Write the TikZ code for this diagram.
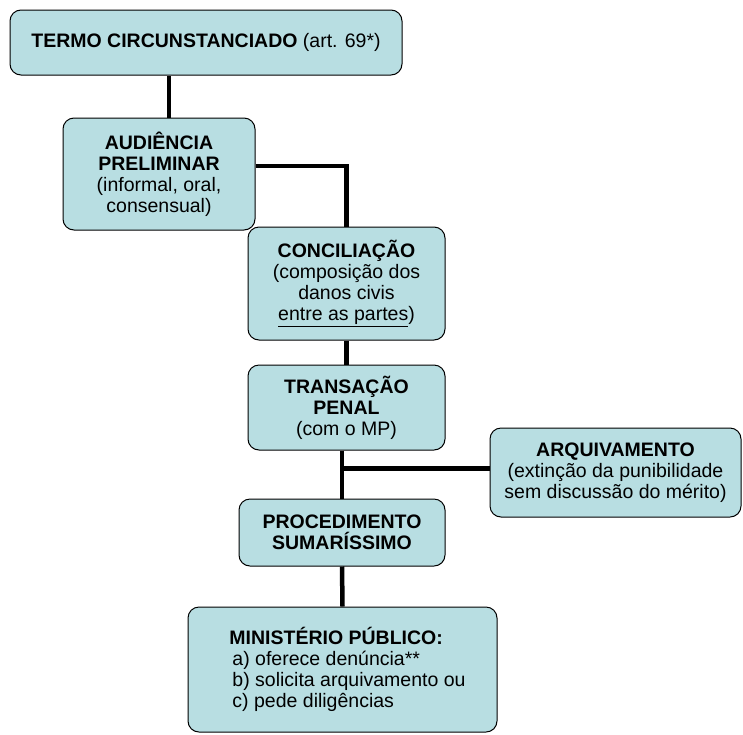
\documentclass[tikz,border=0pt]{standalone}
\usepackage{fontspec}
\setmainfont{Liberation Sans}

\definecolor{caixa}{RGB}{184,222,226}

\begin{document}
\begin{tikzpicture}[
			x = 1pt, y = -1pt,
			semithick]

			\tikzstyle{box}=[
			draw = black,
			line width = 1pt,
			fill = caixa,
			rounded corners = 11pt,
			align = center,
			inner sep = 2pt,
			font = \fontsize{19.5}{21}\selectfont]
			\tikzstyle{liga}=[line width = 4.5pt]

			\useasboundingbox (0,0) rectangle (743,734);

			\node[box, minimum width=392pt, minimum height=65pt] (termo) at (206,42.5)
			{\textbf{TERMO CIRCUNSTANCIADO} (art. 69*)};
			\node[box, minimum width=192pt, minimum height=112pt] (aud) at (159,174)
			{\textbf{AUDIÊNCIA}\\\textbf{PRELIMINAR}\\(informal, oral,\\consensual)};
			\node[box, minimum width=197pt, minimum height=113pt] (conc) at (346.5,283.5)
			{\textbf{CONCILIAÇÃO}\\(composição dos\\danos civis\\\underline{entre as partes})};
			\node[box, minimum width=197pt, minimum height=85pt] (trans) at (346.5,407.5)
			{\textbf{TRANSAÇÃO}\\\textbf{PENAL}\\(com o MP)};
			\node[box, minimum width=251pt, minimum height=89pt] (arq) at (615.5,472.5)
			{\textbf{ARQUIVAMENTO}\\(extinção da punibilidade\\sem discussão do mérito)};
			\node[box, minimum width=206pt, minimum height=67pt] (proc) at (342,532.5)
			{\textbf{PROCEDIMENTO}\\\textbf{SUMARÍSSIMO}};
			\node[box, align=left, minimum width=309pt, minimum height=125pt] (mp) at (342.5,669.5)
			{\hspace*{10pt}\textbf{MINISTÉRIO PÚBLICO:}\\\hspace*{13pt}a) oferece denúncia**\\\hspace*{13pt}b) solicita arquivamento ou\\\hspace*{13pt}c) pede diligências};

			\draw[liga] ([xshift=10pt]aud.north) -- ([xshift=10pt]aud.north |- termo.south);
			\draw[liga] ([yshift=8pt]aud.east) -| (conc.north);
			\draw[liga] (conc.south) -- (trans.north);
			\draw[liga] (proc.north |- trans.south) -- (proc.north);
			\draw[liga] ([yshift=4pt]arq.west -| proc.north) -- ([yshift=4pt]arq.west);
			\draw[liga] (proc.south) -- (mp.north);
		\end{tikzpicture}
\end{document}
